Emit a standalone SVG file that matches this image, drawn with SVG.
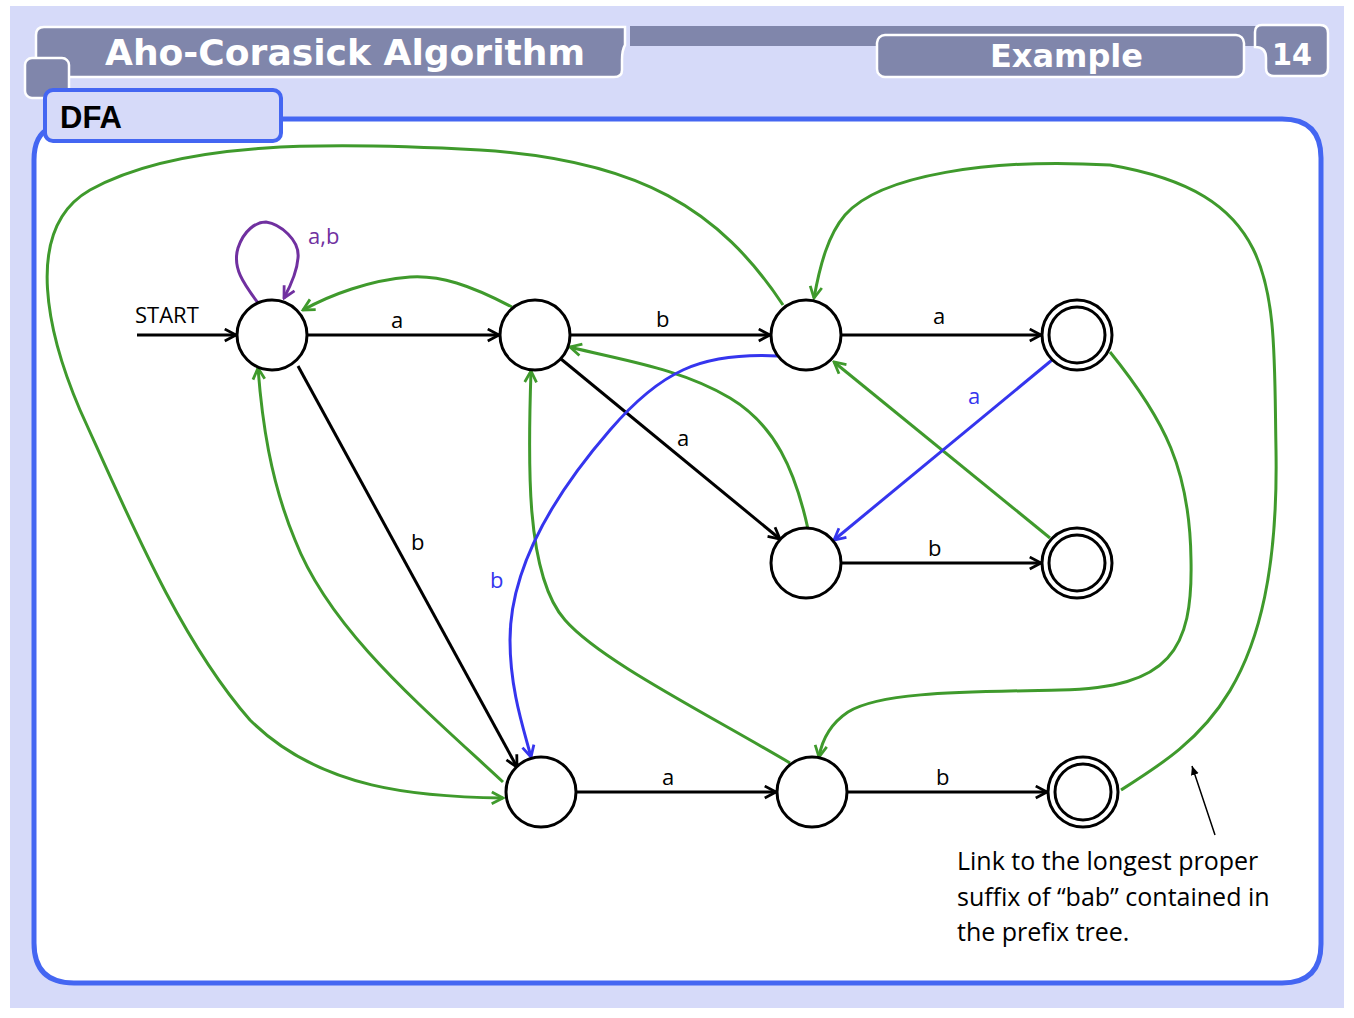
<svg xmlns="http://www.w3.org/2000/svg" width="1354" height="1018" viewBox="0 0 1354 1018">
<style>
.hdr{fill:#8086ab;stroke:#ffffff;stroke-width:2.5}
.htxt{font-family:"DejaVu Sans",sans-serif;font-weight:bold;fill:#ffffff}
.node{fill:#ffffff;stroke:#000000;stroke-width:3}
.blk{fill:none;stroke:#000000;stroke-width:3;marker-end:url(#ak)}
.grn{fill:none;stroke:#3f9a2c;stroke-width:3;marker-end:url(#ag)}
.blu{fill:none;stroke:#3535ee;stroke-width:3;marker-end:url(#ab)}
.pur{fill:none;stroke:#7030a0;stroke-width:3;marker-end:url(#ap)}
.lbl{font-family:"Open Sans","Liberation Sans",sans-serif;font-size:22px;fill:#000000}
.note{font-family:"Open Sans","Liberation Sans",sans-serif;font-size:25px;fill:#000000}
</style>
<defs>
<marker id="ak" viewBox="0 0 14 14" refX="12.5" refY="7" markerWidth="15" markerHeight="15" markerUnits="userSpaceOnUse" orient="auto"><path d="M2,1.5 L12.5,7 L2,12.5" fill="none" stroke="#000000" stroke-width="2.6"/></marker>
<marker id="ag" viewBox="0 0 14 14" refX="12.5" refY="7" markerWidth="15" markerHeight="15" markerUnits="userSpaceOnUse" orient="auto"><path d="M2,1.5 L12.5,7 L2,12.5" fill="none" stroke="#3f9a2c" stroke-width="2.6"/></marker>
<marker id="ab" viewBox="0 0 14 14" refX="12.5" refY="7" markerWidth="15" markerHeight="15" markerUnits="userSpaceOnUse" orient="auto"><path d="M2,1.5 L12.5,7 L2,12.5" fill="none" stroke="#3535ee" stroke-width="2.6"/></marker>
<marker id="ap" viewBox="0 0 14 14" refX="12.5" refY="7" markerWidth="15" markerHeight="15" markerUnits="userSpaceOnUse" orient="auto"><path d="M2,1.5 L12.5,7 L2,12.5" fill="none" stroke="#7030a0" stroke-width="2.6"/></marker>
<marker id="athin" viewBox="0 0 10 10" refX="9" refY="5" markerWidth="10" markerHeight="10" markerUnits="userSpaceOnUse" orient="auto"><path d="M0,1 L9,5 L0,9 Z" fill="#000000"/></marker>
</defs>
<rect x="0" y="0" width="1354" height="1018" fill="#ffffff"/>
<rect x="10" y="6" width="1334" height="1002" fill="#d6daf9"/>
<g id="header">
<rect x="630" y="26" width="640" height="20" fill="#8086ab"/>
<path class="hdr" d="M44,27 L625,27 L625,45 Q622,50 622,60 L622,70 Q622,77 614,77 L44,77 Q36,77 36,69 L36,35 Q36,27 44,27 Z"/>
<text class="htxt" x="105" y="65" font-size="36" textLength="480" lengthAdjust="spacingAndGlyphs">Aho-Corasick Algorithm</text>
<rect class="hdr" x="877" y="35" width="367" height="42" rx="8"/>
<text class="htxt" x="990" y="67" font-size="32" textLength="153" lengthAdjust="spacingAndGlyphs">Example</text>
<path class="hdr" d="M1262,25 L1320,25 Q1328,25 1328,33 L1328,68 Q1328,76 1320,76 L1274,76 Q1266,76 1266,68 L1266,58 Q1266,47 1255,47 L1255,32 Q1255,25 1262,25 Z"/>
<text class="htxt" x="1272" y="65" font-size="30" textLength="40" lengthAdjust="spacingAndGlyphs">14</text>
<rect class="hdr" x="25" y="58" width="44" height="40" rx="7"/>
</g>
<g id="frame">
<path d="M70,119 L1282,119 Q1321,119 1321,158 L1321,944 Q1321,983 1282,983 L74,983 Q34,983 34,943 L34,160 Q34,135 50,128" fill="#ffffff" stroke="#4466f2" stroke-width="5"/>
<rect x="45" y="90" width="236" height="51" rx="8" fill="#d6daf9" stroke="#4466f2" stroke-width="4"/>
<text x="60" y="128" font-family="'Liberation Sans',Arial,sans-serif" font-weight="bold" font-size="31" fill="#000000">DFA</text>
</g>
<g id="connectors">
<path class="blk" d="M137,335 L236,335"/>
<path class="blk" d="M307,335 L499,335"/>
<path class="blk" d="M570,335 L770,335"/>
<path class="blk" d="M841,335 L1041,335"/>
<path class="blk" d="M561,359 L780,539"/>
<path class="blk" d="M841,563 L1041,563"/>
<path class="blk" d="M298,366 L517,767"/>
<path class="blk" d="M576,792 L776,792"/>
<path class="blk" d="M847,792 L1047,792"/>
<path class="pur" d="M258,303 C 244,284 232,268 238,248 C 244,230 256,222 266,222 C 280,224 300,240 298,258 C 297,272 291,285 284,298"/>
<path class="grn" d="M512,307 C 470,285 440,275 410,277 C 370,280 330,295 303,310"/>
<path class="grn" d="M783,305 C 720,210 640,160 480,150 C 330,142 180,140 90,190 C 20,230 50,340 80,410 C 130,520 180,640 250,720 C 320,790 420,797 503,798"/>
<path class="grn" d="M503,782 C 420,705 330,630 295,540 C 270,480 262,420 258,368"/>
<path class="grn" d="M808,529 C 795,470 775,425 730,398 C 680,368 620,360 570,347"/>
<path class="grn" d="M790,763 C 700,710 600,660 565,620 C 525,575 528,460 531,371"/>
<path class="grn" d="M1050,538 L834,362"/>
<path class="grn" d="M1110,352 C 1165,420 1190,470 1191,560 C 1193,650 1170,688 1060,690 C 960,692 880,692 848,712 C 830,724 822,740 819,757"/>
<path class="grn" d="M1121,790 C 1200,740 1280,690 1276,450 C 1273,290 1285,195 1110,165 C 990,158 880,175 845,215 C 828,235 820,265 814,298"/>
<path class="blu" d="M778,356 C 700,352 660,372 610,430 C 545,505 510,575 510,640 C 510,690 524,730 531,757"/>
<path class="blu" d="M1052,360 L834,540"/>
<path d="M1215,835 L1192,766" fill="none" stroke="#000000" stroke-width="1.5" marker-end="url(#athin)"/>
</g>
<g id="labels">
<text class="lbl" x="135" y="323">START</text>
<text class="lbl" x="391" y="328">a</text>
<text class="lbl" x="656" y="327">b</text>
<text class="lbl" x="933" y="324">a</text>
<text class="lbl" x="677" y="446">a</text>
<text class="lbl" x="928" y="556">b</text>
<text class="lbl" x="411" y="550">b</text>
<text class="lbl" x="662" y="785">a</text>
<text class="lbl" x="936" y="785">b</text>
<text class="lbl" x="308" y="244" style="fill:#7030a0">a,b</text>
<text class="lbl" x="968" y="404" style="fill:#3535ee">a</text>
<text class="lbl" x="490" y="588" style="fill:#3535ee">b</text>
</g>
<g id="n0"><circle class="node" cx="272" cy="335" r="35"/></g>
<g id="n1"><circle class="node" cx="535" cy="335" r="35"/></g>
<g id="n2"><circle class="node" cx="806" cy="335" r="35"/></g>
<g id="n3"><circle class="node" cx="1077" cy="335" r="35"/><circle class="node" cx="1077" cy="335" r="28"/></g>
<g id="n4"><circle class="node" cx="806" cy="563" r="35"/></g>
<g id="n5"><circle class="node" cx="1077" cy="563" r="35"/><circle class="node" cx="1077" cy="563" r="28"/></g>
<g id="n6"><circle class="node" cx="541" cy="792" r="35"/></g>
<g id="n7"><circle class="node" cx="812" cy="792" r="35"/></g>
<g id="n8"><circle class="node" cx="1083" cy="792" r="35"/><circle class="node" cx="1083" cy="792" r="28"/></g>
<g id="note">
<text class="note" x="957" y="870">Link to the longest proper</text>
<text class="note" x="957" y="906">suffix of “bab” contained in</text>
<text class="note" x="957" y="941">the prefix tree.</text>
</g>
</svg>
